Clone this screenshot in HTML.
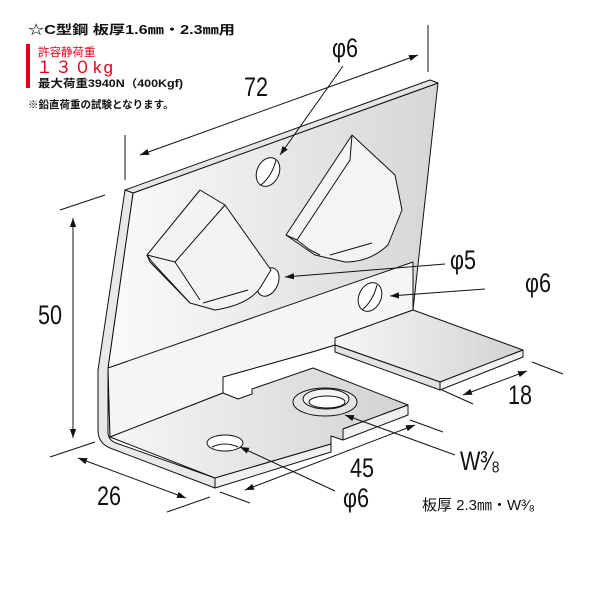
<!DOCTYPE html>
<html><head><meta charset="utf-8"><style>
html,body{margin:0;padding:0;background:#fff}
svg{display:block}
.t{font-family:"Liberation Sans","Noto Sans CJK JP",sans-serif}
</style></head><body>
<svg width="600" height="600" viewBox="0 0 600 600" xmlns="http://www.w3.org/2000/svg">
<defs>
<linearGradient id="g" x1="0" x2="1" y1="0" y2="0"><stop offset="0" stop-color="#fbfbfb"/><stop offset="1" stop-color="#d6d6d6"/></linearGradient>
<linearGradient id="g2" x1="0" x2="1" y1="0" y2="0"><stop offset="0" stop-color="#f6f6f6"/><stop offset="1" stop-color="#d2d2d2"/></linearGradient>
<marker id="a" viewBox="0 0 10 10" refX="10" refY="5" markerWidth="9" markerHeight="9" orient="auto-start-reverse"><path d="M0,1.5L10,5L0,8.5z" fill="#111"/></marker>
</defs>
<g stroke="#111" stroke-width="1" stroke-linejoin="round">
<path d="M133,193 L438,83 L413,310 L335,338 L335,345 L312,352 L223,377 L223,393 L110,437 L108,368 Z" fill="url(#g)"/>
<path d="M108,368 L413,262 L413,310 L335,338 L335,345 L312,352 L223,377 L223,393 L110,437 Z" fill="#f5f5f5"/>
<path d="M125,190 L430,80 L438,83 L133,193 Z" fill="#e6e6e6"/>
<path d="M125,190 L133,193 L108,368 L108,432 Q108,440 116,443 L215,478 L215,488 L110,448 Q98,443 98,430 L98,370 Z" fill="#e8e8e8"/>
<path d="M413,310 L523,350 L440,382 L335,345 L335,338 Z" fill="url(#g2)"/>
<path d="M335,345 L440,382 L440,390 L335,352 Z" fill="#e2e2e2"/>
<path d="M440,382 L523,350 L523,357 L440,390 Z" fill="#f2f2f2"/>
<path d="M110,437 L223,393 L238,399 L252,394 L252,389 L313,368 L408,405 L343,429 L343,440 L331,436 L331,444 L215,478 Z" fill="url(#g2)"/>
<path d="M331,444 L331,452 L215,488 L215,478 Z" fill="#f0f0f0"/>
<path d="M343,440 L408,415 L408,405 L343,429 Z" fill="#f0f0f0"/>
<ellipse cx="268" cy="172" rx="11" ry="15" transform="rotate(25 268 172)" fill="#fff"/>
<path d="M261,185 Q272,176 276,160" fill="none"/>
<ellipse cx="268" cy="282" rx="10" ry="15" transform="rotate(25 268 282)" fill="#fff"/>
<ellipse cx="370" cy="297" rx="11" ry="15" transform="rotate(25 370 297)" fill="#fff"/>
<path d="M362,310 Q373,301 377,285" fill="none"/>
<ellipse cx="225" cy="443" rx="18" ry="8" fill="#fff"/>
<path d="M212,447 Q225,441 238,447" fill="none"/>
<ellipse cx="325" cy="402" rx="32" ry="14" fill="#e4e4e4"/>
<ellipse cx="326" cy="399" rx="23" ry="10" fill="#f4f4f4"/>
<ellipse cx="327" cy="402" rx="18" ry="6" fill="#fff"/>
<path d="M147,255 L200,190 L225,205 L271,270 L260,288 Q248,305 215,310 L190,303 L150,262 Z" fill="#f3f3f3"/>
<path d="M147,255 L175,262 L225,205" fill="none"/>
<path d="M175,262 L200,300" fill="none"/>
<path d="M147,255 L152,262 L190,303" fill="none"/>
<path d="M203,303 L248,290" fill="none"/>
<path d="M286,235 L352,135 L395,175 L402,210 L388,245 Q370,262 345,262 L315,255 Z" fill="#f4f4f4"/>
<path d="M286,235 L297,240 L350,160 L352,135" fill="none"/>
<path d="M297,240 L310,250 L320,255" fill="none"/>
<path d="M330,255 L372,243" fill="none"/>
</g>
<g stroke="#111" stroke-width="1" fill="none">
<line x1="428" y1="25" x2="428" y2="72"/>
<line x1="125" y1="135" x2="125" y2="180"/>
<line x1="140" y1="155" x2="418" y2="55" marker-start="url(#a)" marker-end="url(#a)"/>
<line x1="60" y1="210" x2="105" y2="195"/>
<line x1="50" y1="457" x2="95" y2="442"/>
<line x1="73" y1="218" x2="73" y2="438" marker-start="url(#a)" marker-end="url(#a)"/>
<line x1="78" y1="458" x2="186" y2="498" marker-start="url(#a)" marker-end="url(#a)"/>
<line x1="167" y1="512" x2="210" y2="497"/>
<line x1="220" y1="492" x2="250" y2="503"/>
<line x1="245" y1="490" x2="415" y2="425" marker-start="url(#a)" marker-end="url(#a)"/>
<line x1="410" y1="420" x2="443" y2="432"/>
<line x1="442" y1="390" x2="473" y2="404"/>
<line x1="463" y1="395" x2="527" y2="371" marker-start="url(#a)" marker-end="url(#a)"/>
<line x1="532" y1="362" x2="563" y2="374"/>
<line x1="343" y1="66" x2="280" y2="155" marker-end="url(#a)"/>
<line x1="445" y1="264" x2="285" y2="277" marker-end="url(#a)"/>
<line x1="485" y1="289" x2="390" y2="296" marker-end="url(#a)"/>
<line x1="455" y1="455" x2="345" y2="415" marker-end="url(#a)"/>
<line x1="335" y1="491" x2="240" y2="447" marker-end="url(#a)"/>
</g>
<g class="t" fill="#111">
<text x="28" y="34" font-size="12.5" font-weight="bold" textLength="207" lengthAdjust="spacingAndGlyphs">☆C型鋼 板厚1.6㎜・2.3㎜用</text>
<rect x="26" y="44" width="4" height="44" fill="#e0001b"/>
<text x="38" y="56" font-size="11.5" fill="#e0001b">許容静荷重</text>
<text x="36" y="73" font-size="17" fill="#e0001b" letter-spacing="2">１３０kg</text>
<text x="38" y="87" font-size="11" font-weight="bold" textLength="145" lengthAdjust="spacingAndGlyphs">最大荷重3940N（400Kgf)</text>
<text x="28" y="108" font-size="10.5" font-weight="bold">※鉛直荷重の試験となります。</text>
<g font-size="27">
<text transform="translate(244,96) scale(0.8,1)">72</text>
<text transform="translate(332,57) scale(0.8,1)">φ6</text>
<text transform="translate(450,269) scale(0.8,1)">φ5</text>
<text transform="translate(525,292) scale(0.8,1)">φ6</text>
<text transform="translate(38,324) scale(0.8,1)">50</text>
<text transform="translate(508,404) scale(0.8,1)">18</text>
<text transform="translate(460,470) scale(0.8,1)">W³⁄₈</text>
<text transform="translate(350,477) scale(0.8,1)">45</text>
<text transform="translate(97,505) scale(0.8,1)">26</text>
<text transform="translate(343,507) scale(0.8,1)">φ6</text>
</g>
<text x="422" y="510" font-size="15">板厚 2.3㎜・W³⁄₈</text>
</g>
</svg>
</body></html>
